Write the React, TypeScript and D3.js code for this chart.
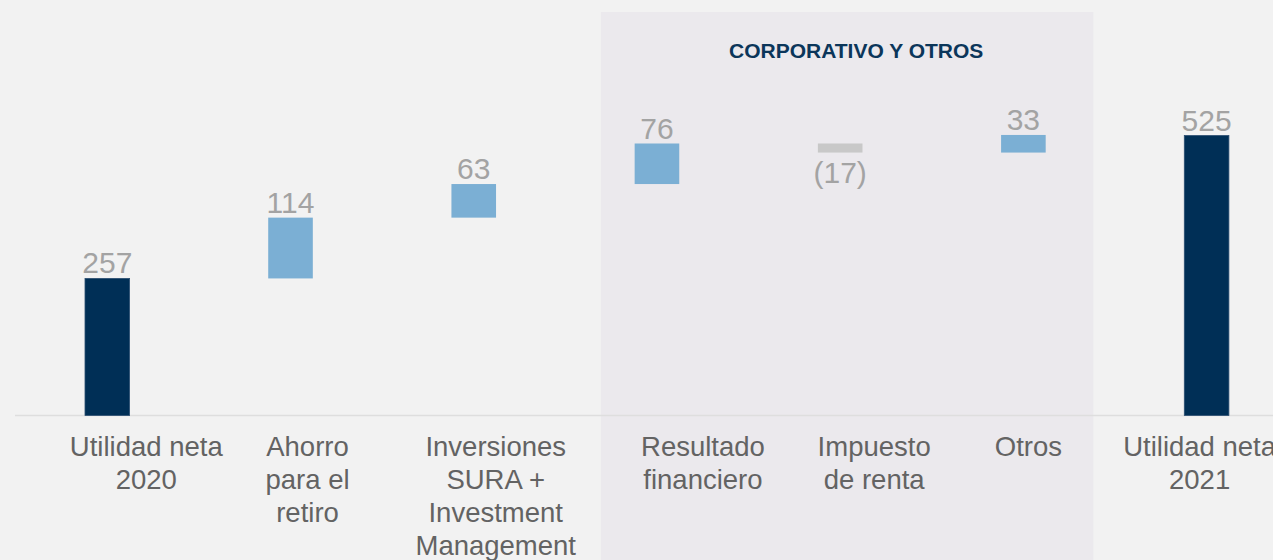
import React, { useEffect, useRef } from 'react';
import * as d3 from 'd3';

// Waterfall data
const categories = ['u2020', 'ahorro', 'inversiones', 'resultado', 'impuesto', 'otros', 'u2021'];
const categoryLabels: string[][] = [
    ['Utilidad neta', '2020'],
    ['Ahorro', 'para el', 'retiro'],
    ['Inversiones', 'SURA +', 'Investment', 'Management'],
    ['Resultado', 'financiero'],
    ['Impuesto', 'de renta'],
    ['Otros'],
    ['Utilidad neta', '2021'],
];
const values = [257, 114, 63, 76, -17, 33, 525];
const kinds = ['total', 'delta', 'delta', 'delta', 'delta', 'delta', 'total'];
const valueLabels = ['257', '114', '63', '76', '(17)', '33', '525'];
const groupTitle = 'CORPORATIVO Y OTROS';
const groupMembers = ['resultado', 'impuesto', 'otros'];

// the text boxes under the bars are not centred on them in the source slide
const labelShift = [39, 17, 22, 46, 34, 5, -7];

const App: React.FC = () => {
    const svgRef = useRef<SVGSVGElement>(null);

    useEffect(() => {
        if (!svgRef.current) return;
        document.body.style.margin = '0';

        d3.select(svgRef.current).selectAll('*').remove();

        const width = 1273;
        const height = 560;
        const font = '"Liberation Sans", Arial, sans-serif';

        const svg = d3.select(svgRef.current)
            .attr('width', width)
            .attr('height', height)
            .attr('viewBox', `0 0 ${width} ${height}`);

        svg.append('rect')
            .attr('width', width)
            .attr('height', height)
            .attr('fill', '#f2f2f2');

        const x = d3.scalePoint<string>()
            .domain(categories)
            .range([107.3, 1206.6]);
        const barW = 44.6;

        const y = d3.scaleLinear()
            .domain([0, 525])
            .range([415.5, 135.5]);

        // shaded group panel
        const gx0 = x(groupMembers[0])! - 56;
        const gx1 = x(groupMembers[groupMembers.length - 1])! + 70;
        svg.append('rect')
            .attr('x', gx0)
            .attr('y', 12)
            .attr('width', gx1 - gx0)
            .attr('height', height - 12)
            .attr('fill', '#ebe9ed');

        svg.append('text')
            .attr('x', (gx0 + gx1) / 2 + 9)
            .attr('y', 58)
            .attr('text-anchor', 'middle')
            .style('font-family', font)
            .style('font-size', '21px')
            .style('font-weight', 'bold')
            .style('fill', '#0b365a')
            .text(groupTitle);

        // baseline
        svg.append('line')
            .attr('x1', 15)
            .attr('x2', width)
            .attr('y1', y(0))
            .attr('y2', y(0))
            .style('stroke', '#dedede')
            .style('stroke-width', 1.5);

        // compute waterfall segments
        let running = 0;
        const segs = values.map((v, i) => {
            if (kinds[i] === 'total') {
                running = v;
                return { cat: categories[i], lo: 0, hi: v, v, i };
            }
            const start = running;
            running += v;
            return { cat: categories[i], lo: Math.min(start, running), hi: Math.max(start, running), v, i };
        });

        const color = (d: { v: number; i: number }) =>
            kinds[d.i] === 'total' ? '#002f56' : d.v < 0 ? '#c8c8c8' : '#7bafd4';

        svg.selectAll('.bar')
            .data(segs)
            .enter()
            .append('rect')
            .attr('class', 'bar')
            .attr('x', d => x(d.cat)! - barW / 2)
            .attr('y', d => y(d.hi))
            .attr('width', barW)
            .attr('height', d => y(d.lo) - y(d.hi))
            .style('fill', d => color(d))
            .style('stroke', d => (kinds[d.i] === 'total' ? '#2c4f72' : 'none'))
            .style('stroke-width', 0.8);

        svg.selectAll('.val')
            .data(segs)
            .enter()
            .append('text')
            .attr('class', 'val')
            .attr('x', d => x(d.cat)!)
            .attr('y', d => (d.v < 0 ? y(d.lo) + 30 : y(d.hi) - 5))
            .attr('text-anchor', 'middle')
            .style('font-family', font)
            .style('font-size', '30px')
            .style('fill', '#a3a3a3')
            .text(d => valueLabels[d.i]);

        // category labels
        const lab = svg.selectAll('.cat')
            .data(categories)
            .enter()
            .append('text')
            .attr('class', 'cat')
            .attr('text-anchor', 'middle')
            .style('font-family', font)
            .style('font-size', '27.5px')
            .style('fill', '#636363');

        lab.selectAll('tspan')
            .data((_, i) => categoryLabels[i].map(line => ({ line, i })))
            .enter()
            .append('tspan')
            .attr('x', d => x(categories[d.i])! + labelShift[d.i])
            .attr('y', (_, j) => 456 + j * 33)
            .text(d => d.line);
    }, []);

    return <svg ref={svgRef} style={{ display: 'block' }} />;
};

export default App;
